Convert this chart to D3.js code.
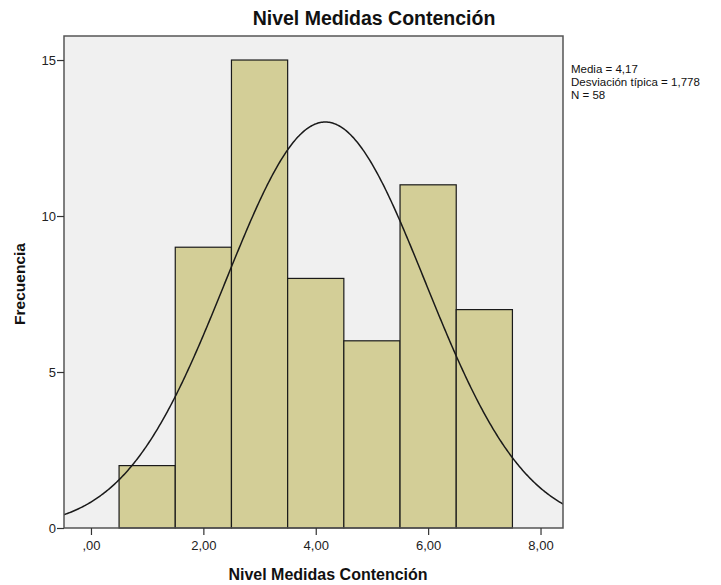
<!DOCTYPE html>
<html><head><meta charset="utf-8">
<script src="https://cdn.jsdelivr.net/npm/d3@7"></script>
<style>body{margin:0;background:#fff;} svg{display:block;}</style>
</head><body>
<script>
const binCenters = [1, 2, 3, 4, 5, 6, 7];
const counts = [2, 9, 15, 8, 6, 11, 7];
const xTicks = [0, 2, 4, 6, 8];
const xTickLabels = [",00", "2,00", "4,00", "6,00", "8,00"];
const yTicks = [0, 5, 10, 15];
const stats = { mean: 4.17, sd: 1.778, n: 58 };
const legendLines = ["Media = 4,17", "Desviación típica = 1,778", "N = 58"];

const W = 721, H = 585;
const L = 64, R = 563, T = 36, B = 528;
const svg = d3.select("body").append("svg").attr("width", W).attr("height", H);
const font = "'Liberation Sans',Arial,sans-serif";

const x = d3.scaleLinear().domain([-0.48, 8.4]).range([L, R]);
const y = d3.scaleLinear().domain([0, 15.77]).range([B, T]);

svg.append("rect").attr("x", L).attr("y", T).attr("width", R - L).attr("height", B - T)
  .attr("fill", "#f0f0f0");

svg.append("clipPath").attr("id", "c").append("rect")
  .attr("x", L).attr("y", T).attr("width", R - L).attr("height", B - T);

svg.append("g").selectAll("rect").data(binCenters).join("rect")
  .attr("x", d => x(d - 0.5)).attr("y", (d, i) => y(counts[i]))
  .attr("width", d => x(d + 0.5) - x(d - 0.5))
  .attr("height", (d, i) => y(0) - y(counts[i]))
  .attr("fill", "#d3ce97").attr("stroke", "#1a1a1a").attr("stroke-width", 1.2);

const pdf = v => stats.n * 1 / (stats.sd * Math.sqrt(2 * Math.PI)) * Math.exp(-0.5 * ((v - stats.mean) / stats.sd) ** 2);
const xs = d3.range(-0.48, 8.41, 0.02);
svg.append("path").datum(xs).attr("clip-path", "url(#c)")
  .attr("d", d3.line().x(d => x(d)).y(d => y(pdf(d))))
  .attr("fill", "none").attr("stroke", "#1a1a1a").attr("stroke-width", 1.5);

svg.append("rect").attr("x", L).attr("y", T).attr("width", R - L).attr("height", B - T)
  .attr("fill", "none").attr("stroke", "#555").attr("stroke-width", 1.5);

const xAxis = svg.append("g").attr("transform", `translate(0,${B})`)
  .call(d3.axisBottom(x).tickValues(xTicks).tickFormat((d, i) => xTickLabels[i]).tickSize(7).tickSizeOuter(0));
xAxis.select(".domain").remove();
xAxis.selectAll("line").attr("stroke", "#333").attr("stroke-width", 1.2);
xAxis.selectAll("text").attr("font-family", font).attr("font-size", 13).attr("fill", "#222").attr("dy", "0.95em");

const yAxis = svg.append("g").attr("transform", `translate(${L},0)`)
  .call(d3.axisLeft(y).tickValues(yTicks).tickSize(7).tickSizeOuter(0));
yAxis.select(".domain").remove();
yAxis.selectAll("line").attr("stroke", "#333").attr("stroke-width", 1.2);
yAxis.selectAll("text").attr("font-family", font).attr("font-size", 13).attr("fill", "#222").attr("x", -8);

svg.append("text").attr("x", 374).attr("y", 25).attr("text-anchor", "middle")
  .attr("font-family", font).attr("font-weight", "bold").attr("font-size", 19.5).attr("fill", "#111")
  .text("Nivel Medidas Contención");
svg.append("text").attr("x", 328).attr("y", 580).attr("text-anchor", "middle")
  .attr("font-family", font).attr("font-weight", "bold").attr("font-size", 16).attr("fill", "#111")
  .text("Nivel Medidas Contención");
svg.append("text").attr("transform", "translate(25,284) rotate(-90)").attr("text-anchor", "middle")
  .attr("font-family", font).attr("font-weight", "bold").attr("font-size", 15.5).attr("fill", "#111")
  .text("Frecuencia");

svg.append("g").selectAll("text").data(legendLines).join("text")
  .attr("x", 571).attr("y", (d, i) => 73 + i * 13)
  .attr("font-family", font).attr("font-size", 11.5).attr("fill", "#111")
  .text(d => d);
</script>
</body></html>
